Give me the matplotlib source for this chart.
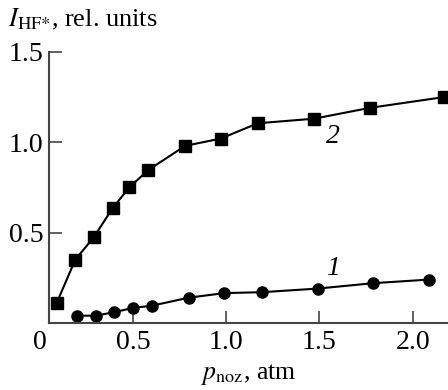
import matplotlib
matplotlib.use("Agg")
import matplotlib.pyplot as plt
import matplotlib.transforms as mtransforms

plt.rcParams['font.family'] = ['Liberation Serif', 'DejaVu Serif']
plt.rcParams['mathtext.fontset'] = 'stix'

# curve 1 (circles)
p1 = [0.2, 0.3, 0.4, 0.5, 0.6, 0.8, 0.99, 1.19, 1.49, 1.79, 2.09]
i1 = [0.04, 0.04, 0.06, 0.083, 0.095, 0.14, 0.165, 0.17, 0.19, 0.22, 0.24]

# curve 2 (squares)
p2 = [0.09, 0.19, 0.29, 0.39, 0.48, 0.58, 0.78, 0.97, 1.17, 1.47, 1.77, 2.17]
i2 = [0.11, 0.35, 0.475, 0.635, 0.75, 0.845, 0.98, 1.02, 1.105, 1.13, 1.19, 1.25]

xticks = [0.5, 1.0, 1.5, 2.0]
yticks = [0.5, 1.0, 1.5]

fig = plt.figure(figsize=(4.48, 3.90), dpi=100)
ax = fig.add_axes([0.109, 0.172, 0.891, 0.695])

ax.plot(p2, i2, '-s', color='black', lw=1.5, ms=8, clip_on=False)
ax.plot(p1, i1, '-o', color='black', lw=1.5, ms=8, clip_on=False)

ax.set_xlim(0.048, 2.19)
ax.set_ylim(0.0, 1.5)

ax.set_xticks(xticks)
ax.set_xticklabels(['0.5', '1.0', '1.5', '2.0'])
ax.set_yticks(yticks)
ax.set_yticklabels(['0.5', '1.0', '1.5'])
ax.tick_params(direction='in', length=9, width=1.2, color='#444444',
               labelsize=20)
ax.tick_params(axis='x', pad=5)
ax.tick_params(axis='y', pad=4)

# origin label sits left of the y axis, outside the x range
zero_tr = mtransforms.offset_copy(ax.get_xaxis_transform(), fig=fig,
                                  y=-5, units='points')
ax.text(0.0, 0.0, '0', transform=zero_tr, ha='center', va='top',
        fontsize=20, clip_on=False)

for side in ['top', 'right']:
    ax.spines[side].set_visible(False)
for side in ['left', 'bottom']:
    ax.spines[side].set_color('#444444')
    ax.spines[side].set_linewidth(1.5)

ax.text(1.57, 1.03, '2', fontsize=20, style='italic', ha='center', va='center')
ax.text(1.57, 0.30, '1', fontsize=20, style='italic', ha='center', va='center')

fig.text(0.018, 0.95, r'$I_{\rm HF{*}}$, rel. units', fontsize=19, ha='left', va='center')
fig.text(0.556, 0.04, r'$p_{\rm noz}$, atm', fontsize=18.5, ha='center', va='center')

fig.savefig('out.png', dpi=100)
